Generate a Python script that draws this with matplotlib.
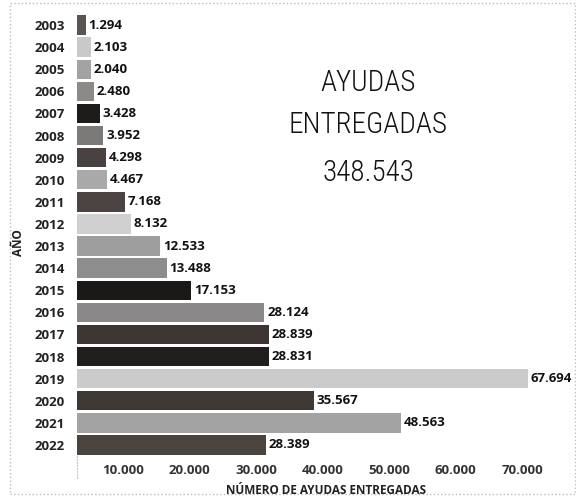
#!/usr/bin/env python3
"""Ayudas entregadas por año (barras horizontales)."""

import matplotlib
matplotlib.use("Agg")
import matplotlib.pyplot as plt
import matplotlib.transforms as mtransforms
from matplotlib.patches import Rectangle

YEARS = [str(y) for y in range(2003, 2023)]
VALUES = [1294, 2103, 2040, 2480, 3428, 3952, 4298, 4467, 7168, 8132,
          12533, 13488, 17153, 28124, 28839, 28831, 67694, 35567, 48563, 28389]
BAR_COLORS = ["#5a5452", "#c9c9c9", "#a3a3a3", "#8c8a89", "#1f1b1a", "#7c7a79",
              "#4a4240", "#a9a9a9", "#4b4341", "#d0d0d0", "#9e9e9e", "#8d8d8d",
              "#1b1818", "#8a8888", "#3d3632", "#211e1d", "#cbcbcb", "#3f3935",
              "#a3a3a3", "#4a433e"]
X_TICKS = [10000, 20000, 30000, 40000, 50000, 60000, 70000]
X_TICK_LABELS = ["10.000", "20.000", "30.000", "40.000", "50.000", "60.000", "70.000"]
TOTAL_LABEL = "348.543"

FONT = "Open Sans"

fig = plt.figure(figsize=(5.76, 4.97), dpi=100)
ax = fig.add_axes([77 / 576, 1 - 456 / 497, 483 / 576, 442 / 497])

y_pos = list(range(len(YEARS)))
ax.barh(y_pos, VALUES, height=0.88, color=BAR_COLORS)

for y, v in zip(y_pos, VALUES):
    label = f"{v:,}".replace(",", ".")
    ax.annotate(label, (v, y), xytext=(2, 0), textcoords="offset points",
                va="center", ha="left", fontsize=9.5, fontweight="bold",
                family=FONT, color="#111111")

ax.set_xlim(0, 72500)
ax.set_ylim(len(YEARS) - 0.5, -0.5)
ax.set_yticks(y_pos)
ax.set_yticklabels(YEARS, fontsize=9.5, fontweight="bold", family=FONT, color="#222222")
ax.set_xticks(X_TICKS)
ax.set_xticklabels(X_TICK_LABELS, fontsize=9.5, fontweight="bold", family=FONT, color="#333333")
offset = mtransforms.ScaledTranslation(-6 / 72, 0, fig.dpi_scale_trans)
for lbl in ax.get_xticklabels():
    lbl.set_horizontalalignment("right")
    lbl.set_transform(lbl.get_transform() + offset)
ax.tick_params(axis="both", length=0)
ax.tick_params(axis="y", pad=9)
ax.tick_params(axis="x", pad=6)

for side in ("top", "right", "bottom"):
    ax.spines[side].set_visible(False)
ax.spines["left"].set_color("#c8c8c8")
ax.spines["left"].set_linestyle(":")
ax.spines["left"].set_bounds(len(YEARS) - 0.5, 20.5)

fig.text(326 / 576, 1 - 490 / 497, "NÚMERO DE AYUDAS ENTREGADAS", ha="center", va="center",
         fontsize=8.5, fontweight="bold", family=FONT, color="#222222")
fig.text(18 / 576, 1 - 243 / 497, "AÑO", ha="center", va="center", rotation=90,
         fontsize=8.5, fontweight="bold", family=FONT, color="#222222")

big = dict(ha="center", va="center", fontsize=21, color="#111111",
           fontweight="light", fontstretch="condensed",
           family=["Roboto Condensed", "Roboto", "DejaVu Sans"])
fig.text(368 / 576, 1 - 83 / 497, "AYUDAS", **big)
fig.text(368 / 576, 1 - 125 / 497, "ENTREGADAS", **big)
fig.text(368 / 576, 1 - 173 / 497, TOTAL_LABEL, **big)

fig.patches.append(Rectangle((10 / 576, 1 - 494 / 497), 575 / 576 - 10 / 576, 491 / 497,
                             transform=fig.transFigure, fill=False,
                             edgecolor="#bdbdbd", linestyle=":", linewidth=1.0))

fig.savefig("out.png", dpi=100)
